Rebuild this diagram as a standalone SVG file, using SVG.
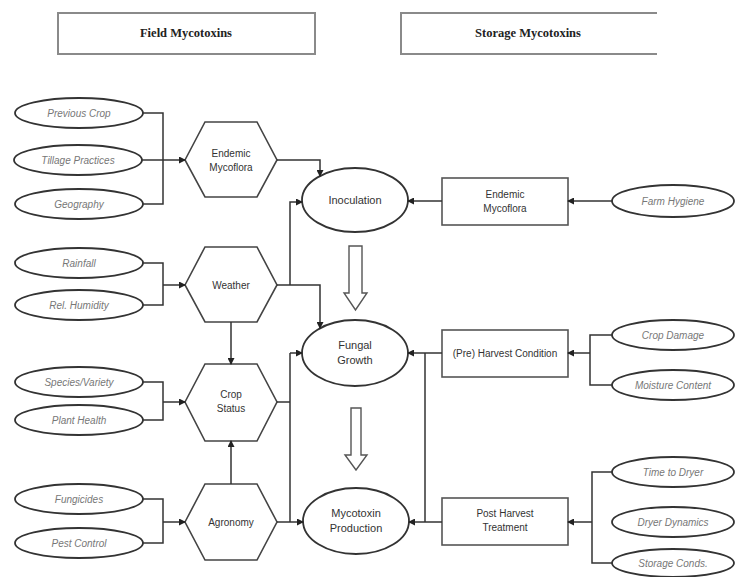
<svg xmlns="http://www.w3.org/2000/svg" width="735" height="577" viewBox="0 0 735 577">
<defs>
<marker id="ah" markerWidth="7" markerHeight="7" refX="6" refY="3.5" orient="auto" markerUnits="userSpaceOnUse">
<path d="M0,0 L7,3.5 L0,7 Z" fill="#222"/>
</marker>
<style>
.title{font-family:"Liberation Serif",serif;font-size:12.5px;font-weight:bold;fill:#222;text-anchor:middle}
.hdr{fill:#fff;stroke:#8a8a8a;stroke-width:2}
.fac{fill:#fff;stroke:#333;stroke-width:1.8}
.fact{font-family:"Liberation Sans",Arial,sans-serif;font-size:10px;font-style:italic;fill:#777;text-anchor:middle}
.hex{fill:#fff;stroke:#444;stroke-width:1.6}
.lab{font-family:"Liberation Sans",Arial,sans-serif;font-size:10px;fill:#333;text-anchor:middle}
.main{fill:#fff;stroke:#333;stroke-width:1.8}
.mt{font-family:"Liberation Sans",Arial,sans-serif;font-size:11px;fill:#333;text-anchor:middle}
.box{fill:#fff;stroke:#555;stroke-width:1.6}
.con{fill:none;stroke:#333;stroke-width:1.5}
.arr{fill:none;stroke:#333;stroke-width:1.5;marker-end:url(#ah)}
.big{fill:#fff;stroke:#555;stroke-width:1.4}
</style>
</defs>
<rect width="735" height="577" fill="#fff"/>

<g id="hdr-field"><rect class="hdr" x="58" y="13" width="257" height="41"/><text class="title" x="186" y="37">Field Mycotoxins</text></g>
<g id="hdr-storage"><path class="hdr" d="M657,13 H401 V54 H657"/><text class="title" x="528" y="37">Storage Mycotoxins</text></g>

<g id="e-prevcrop"><ellipse class="fac" cx="79" cy="113" rx="64" ry="15"/><text class="fact" x="79" y="117">Previous Crop</text></g>
<g id="e-tillage"><ellipse class="fac" cx="78" cy="160" rx="64" ry="15"/><text class="fact" x="78" y="164">Tillage Practices</text></g>
<g id="e-geo"><ellipse class="fac" cx="79" cy="204" rx="64" ry="15"/><text class="fact" x="79" y="208">Geography</text></g>
<g id="e-rain"><ellipse class="fac" cx="79" cy="263" rx="64" ry="15"/><text class="fact" x="79" y="267">Rainfall</text></g>
<g id="e-hum"><ellipse class="fac" cx="79" cy="305" rx="64" ry="15"/><text class="fact" x="79" y="309">Rel. Humidity</text></g>
<g id="e-species"><ellipse class="fac" cx="79" cy="382" rx="64" ry="15"/><text class="fact" x="79" y="386">Species/Variety</text></g>
<g id="e-health"><ellipse class="fac" cx="79" cy="420" rx="64" ry="15"/><text class="fact" x="79" y="424">Plant Health</text></g>
<g id="e-fung"><ellipse class="fac" cx="79" cy="499" rx="64" ry="15"/><text class="fact" x="79" y="503">Fungicides</text></g>
<g id="e-pest"><ellipse class="fac" cx="79" cy="543" rx="64" ry="15"/><text class="fact" x="79" y="547">Pest Control</text></g>

<g id="h-endemic"><polygon class="hex" points="185,160 205,122 257,122 277,160 257,197 205,197"/><text class="lab" x="231" y="157">Endemic</text><text class="lab" x="231" y="171">Mycoflora</text></g>
<g id="h-weather"><polygon class="hex" points="185,285 205,247 257,247 277,285 257,322 205,322"/><text class="lab" x="231" y="289">Weather</text></g>
<g id="h-crop"><polygon class="hex" points="185,402 205,364 257,364 277,402 257,441 205,441"/><text class="lab" x="231" y="398">Crop</text><text class="lab" x="231" y="412">Status</text></g>
<g id="h-agro"><polygon class="hex" points="185,522 205,484 257,484 277,522 257,560 205,560"/><text class="lab" x="231" y="526">Agronomy</text></g>

<g id="n-inoc"><ellipse class="main" cx="355" cy="200" rx="53" ry="32"/><text class="mt" x="355" y="204">Inoculation</text></g>
<g id="n-fungal"><ellipse class="main" cx="355" cy="353" rx="53" ry="33"/><text class="mt" x="355" y="349">Fungal</text><text class="mt" x="355" y="364">Growth</text></g>
<g id="n-myco"><ellipse class="main" cx="356" cy="521" rx="53" ry="33"/><text class="mt" x="356" y="517">Mycotoxin</text><text class="mt" x="356" y="532">Production</text></g>

<g id="b-endemic"><rect class="box" x="442" y="178" width="126" height="47"/><text class="lab" x="505" y="198">Endemic</text><text class="lab" x="505" y="212">Mycoflora</text></g>
<g id="b-pre"><rect class="box" x="442" y="330" width="126" height="47"/><text class="lab" x="505" y="357">(Pre) Harvest Condition</text></g>
<g id="b-post"><rect class="box" x="442" y="498" width="126" height="47"/><text class="lab" x="505" y="517">Post Harvest</text><text class="lab" x="505" y="531">Treatment</text></g>

<g id="e-hygiene"><ellipse class="fac" cx="673" cy="201" rx="61" ry="16"/><text class="fact" x="673" y="205">Farm Hygiene</text></g>
<g id="e-damage"><ellipse class="fac" cx="673" cy="335" rx="61" ry="15"/><text class="fact" x="673" y="339">Crop Damage</text></g>
<g id="e-moist"><ellipse class="fac" cx="673" cy="385" rx="61" ry="15"/><text class="fact" x="673" y="389">Moisture Content</text></g>
<g id="e-time"><ellipse class="fac" cx="673" cy="472" rx="61" ry="15"/><text class="fact" x="673" y="476">Time to Dryer</text></g>
<g id="e-dryer"><ellipse class="fac" cx="673" cy="522" rx="61" ry="15"/><text class="fact" x="673" y="526">Dryer Dynamics</text></g>
<g id="e-storage"><ellipse class="fac" cx="673" cy="563" rx="61" ry="14"/><text class="fact" x="673" y="567">Storage Conds.</text></g>

<g id="connectors">
<path class="con" d="M143,113 H163 V204 H143"/>
<path class="arr" d="M142,160 H185"/>
<path class="con" d="M143,263 H163 V305 H143"/>
<path class="arr" d="M163,285 H185"/>
<path class="con" d="M143,382 H163 V420 H143"/>
<path class="arr" d="M163,402 H185"/>
<path class="con" d="M143,499 H163 V543 H143"/>
<path class="arr" d="M163,522 H185"/>

<path class="arr" d="M277,160 H320 V176"/>
<path class="arr" d="M277,285 H320 V328"/>
<path class="arr" d="M290,285 V202 H302"/>
<path class="arr" d="M231,322 V364"/>
<path class="arr" d="M231,484 V441"/>
<path class="con" d="M277,402 H290"/>
<path class="con" d="M290,353 V522"/>
<path class="arr" d="M290,353 H302"/>
<path class="arr" d="M277,522 H303"/>

<path class="arr" d="M612,201 H568"/>
<path class="arr" d="M442,201 H408"/>
<path class="con" d="M612,335 H590 V385 H612"/>
<path class="arr" d="M590,353 H568"/>
<path class="arr" d="M442,353 H408"/>
<path class="con" d="M425,353 V522"/>
<path class="con" d="M612,472 H592 V563 H612"/>
<path class="arr" d="M592,522 H568"/>
<path class="arr" d="M442,522 H409"/>

<polygon class="big" points="349,246 362,246 362,293 367,293 355.5,310 344,293 349,293"/>
<polygon class="big" points="351,408 361,408 361,455 367,455 356,470 345,455 351,455"/>
</g>
</svg>
